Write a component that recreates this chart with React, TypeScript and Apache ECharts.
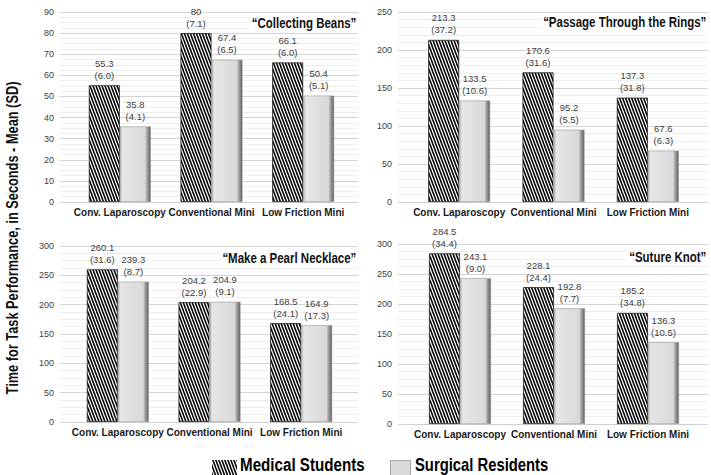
import React, { useEffect, useRef } from "react";
import * as echarts from "echarts";

const categories = ["Conv. Laparoscopy", "Conventional Mini", "Low Friction Mini"];
const taskTitles = ["“Collecting Beans”", "“Passage Through the Rings”", "“Make a Pearl Necklace”", "“Suture Knot”"];
const seriesNames = ["Medical Students", "Surgical Residents"];
const yAxisTitle = "Time for Task Performance, in Seconds - Mean (SD)";

// Mean (SD) per task: [Conv. Laparoscopy, Conventional Mini, Low Friction Mini]
const beansStudentsMean = [55.3, 80, 66.1];
const beansStudentsSD = [6.0, 7.1, 6.0];
const beansResidentsMean = [35.8, 67.4, 50.4];
const beansResidentsSD = [4.1, 6.5, 5.1];

const ringsStudentsMean = [213.3, 170.6, 137.3];
const ringsStudentsSD = [37.2, 31.6, 31.8];
const ringsResidentsMean = [133.5, 95.2, 67.6];
const ringsResidentsSD = [10.6, 5.5, 6.3];

const pearlStudentsMean = [260.1, 204.2, 168.5];
const pearlStudentsSD = [31.6, 22.9, 24.1];
const pearlResidentsMean = [239.3, 204.9, 164.9];
const pearlResidentsSD = [8.7, 9.1, 17.3];

const knotStudentsMean = [284.5, 228.1, 185.2];
const knotStudentsSD = [34.4, 24.4, 34.8];
const knotResidentsMean = [243.1, 192.8, 136.3];
const knotResidentsSD = [9.0, 7.7, 10.5];

const yMaxes = [90, 250, 300, 300];
const yIntervals = [10, 50, 50, 50];
const yMinorSplits = [4, 5, 4, 4];

const panels = [
  { sm: beansStudentsMean, ssd: beansStudentsSD, rm: beansResidentsMean, rsd: beansResidentsSD },
  { sm: ringsStudentsMean, ssd: ringsStudentsSD, rm: ringsResidentsMean, rsd: ringsResidentsSD },
  { sm: pearlStudentsMean, ssd: pearlStudentsSD, rm: pearlResidentsMean, rsd: pearlResidentsSD },
  { sm: knotStudentsMean, ssd: knotStudentsSD, rm: knotResidentsMean, rsd: knotResidentsSD },
];

const SANS = "'Liberation Sans', Arial, sans-serif";
const NARROW_SCALE = 0.82;

// layout (pixels)
const bgGrids = [
  { left: 60, right: 353, top: 12, bottom: 273 },
  { left: 398, right: 3, top: 12, bottom: 273 },
  { left: 60, right: 353, top: 246, bottom: 53 },
  { left: 398, right: 3, top: 244, bottom: 51 },
];
const dataGrids = [
  { left: 74, right: 362, top: 12, bottom: 273 },
  { left: 412, right: 16, top: 12, bottom: 273 },
  { left: 72, right: 364, top: 246, bottom: 53 },
  { left: 413, right: 16, top: 244, bottom: 51 },
];
const titlePos = [
  { x: 358, y: 23 },
  { x: 708, y: 22 },
  { x: 358, y: 258 },
  { x: 708, y: 257 },
];

function makeStripeCanvas(): HTMLCanvasElement {
  // tile 3 x 8: one diagonal "\" stripe per 3px horizontally
  const c = document.createElement("canvas");
  c.width = 3;
  c.height = 8;
  const ctx = c.getContext("2d")!;
  ctx.fillStyle = "#ffffff";
  ctx.fillRect(0, 0, 3, 8);
  ctx.fillStyle = "#000000";
  const w = 1.65;
  for (const off of [-3, 0, 3]) {
    ctx.beginPath();
    ctx.moveTo(off, 0);
    ctx.lineTo(off + w, 0);
    ctx.lineTo(off + 3 + w, 8);
    ctx.lineTo(off + 3, 8);
    ctx.closePath();
    ctx.fill();
  }
  return c;
}

const grayStyle = {
  color: {
    type: "linear",
    x: 0,
    y: 0,
    x2: 1,
    y2: 0,
    colorStops: [
      { offset: 0, color: "#b8b8b8" },
      { offset: 0.08, color: "#e6e6e6" },
      { offset: 0.82, color: "#d9d9d9" },
      { offset: 0.88, color: "#a6a6a6" },
      { offset: 1, color: "#5e5e5e" },
    ],
  },
  borderColor: "#9a9a9a",
  borderWidth: 0.6,
};

export default function App() {
  const ref = useRef<HTMLDivElement>(null);

  useEffect(() => {
    if (!ref.current) return;
    const chart = echarts.init(ref.current, null, { renderer: "svg" });

    const stripeCanvas = makeStripeCanvas();
    const stripeStyle = {
      color: { image: stripeCanvas, repeat: "repeat" },
      borderColor: "#222222",
      borderWidth: 0.8,
    };

    const grid: any[] = [];
    const xAxis: any[] = [];
    const yAxis: any[] = [];
    const series: any[] = [];
    const graphic: any[] = [];

    panels.forEach((p, i) => {
      grid.push({ ...bgGrids[i], containLabel: false });
      xAxis.push({ type: "category", gridIndex: i, data: categories, show: false });
      yAxis.push({
        type: "value",
        gridIndex: i,
        min: 0,
        max: yMaxes[i],
        interval: yIntervals[i],
        axisLine: { show: false },
        axisTick: { show: false },
        axisLabel: { color: "#404040", fontSize: 9, fontFamily: SANS, margin: 6 },
        splitLine: { lineStyle: { color: "#d4d4d4", width: 1 } },
        minorTick: { show: false, splitNumber: yMinorSplits[i] },
        minorSplitLine: { show: true, lineStyle: { color: "#eeeeee", width: 1 } },
      });
    });

    panels.forEach((p, i) => {
      const gi = i + 4;
      grid.push({ ...dataGrids[i], containLabel: false });
      xAxis.push({
        type: "category",
        gridIndex: gi,
        data: categories,
        axisLine: { show: true, lineStyle: { color: "#cfcfcf" } },
        axisTick: { show: false },
        axisLabel: {
          color: "#1a1a1a",
          fontSize: 10,
          fontWeight: "bold",
          fontFamily: SANS,
          margin: 5,
          interval: 0,
        },
      });
      yAxis.push({
        type: "value",
        gridIndex: gi,
        min: 0,
        max: yMaxes[i],
        interval: yIntervals[i],
        show: false,
        splitLine: { show: false },
      });
      const mkLabel = (means: number[], sds: number[]) => ({
        show: true,
        position: "top",
        distance: 4,
        color: "#404040",
        fontSize: 9.5,
        lineHeight: 12,
        fontFamily: SANS,
        formatter: (pr: any) => `${String(means[pr.dataIndex])}\n(${sds[pr.dataIndex].toFixed(1)})`,
      });
      series.push({
        type: "bar",
        name: seriesNames[0],
        xAxisIndex: gi,
        yAxisIndex: gi,
        data: p.sm,
        barWidth: 31,
        barGap: "0%",
        itemStyle: stripeStyle,
        label: mkLabel(p.sm, p.ssd),
      });
      series.push({
        type: "bar",
        name: seriesNames[1],
        xAxisIndex: gi,
        yAxisIndex: gi,
        data: p.rm,
        barWidth: 31,
        barGap: "0%",
        itemStyle: grayStyle,
        label: mkLabel(p.rm, p.rsd),
      });
      graphic.push({
        type: "text",
        x: titlePos[i].x,
        y: titlePos[i].y,
        scaleX: NARROW_SCALE,
        z: 10,
        style: {
          text: taskTitles[i],
          align: "right",
          verticalAlign: "middle",
          fontSize: 14,
          fontWeight: "bold",
          fontFamily: SANS,
          fill: "#111111",
          backgroundColor: "#ffffff",
          padding: [1, 2],
        },
      });
    });

    graphic.push({
      type: "text",
      x: 12,
      y: 238,
      rotation: Math.PI / 2,
      scaleX: 0.8,
      style: {
        text: yAxisTitle,
        align: "center",
        verticalAlign: "middle",
        fontSize: 16,
        fontWeight: "bold",
        fontFamily: SANS,
        fill: "#111111",
      },
    });

    graphic.push({
      type: "text",
      x: 240,
      y: 465,
      scaleX: NARROW_SCALE,
      style: {
        text: seriesNames[0],
        align: "left",
        verticalAlign: "middle",
        fontSize: 18.5,
        fontWeight: "bold",
        fontFamily: SANS,
        fill: "#000000",
      },
    });
    graphic.push({
      type: "text",
      x: 415,
      y: 465,
      scaleX: 0.8,
      style: {
        text: seriesNames[1],
        align: "left",
        verticalAlign: "middle",
        fontSize: 18.5,
        fontWeight: "bold",
        fontFamily: SANS,
        fill: "#000000",
      },
    });

    chart.setOption({
      animation: false,
      backgroundColor: "#ffffff",
      grid,
      xAxis,
      yAxis,
      series,
      graphic,
      legend: [
        {
          left: 207,
          top: 455,
          itemWidth: 25,
          itemHeight: 18,
          icon: "rect",
          formatter: () => "",
          textStyle: { fontSize: 1 },
          data: [{ name: seriesNames[0], itemStyle: { color: { image: stripeCanvas, repeat: "repeat" }, borderWidth: 0 } }],
        },
        {
          left: 385,
          top: 455,
          itemWidth: 20,
          itemHeight: 18,
          icon: "rect",
          formatter: () => "",
          textStyle: { fontSize: 1 },
          data: [{ name: seriesNames[1], itemStyle: { color: "#d9d9d9", borderColor: "#a6a6a6", borderWidth: 1 } }],
        },
      ],
    });

    return () => chart.dispose();
  }, []);

  return (
    <div
      ref={ref}
      style={{ position: "absolute", left: 0, top: 0, width: 711, height: 475 }}
    />
  );
}
